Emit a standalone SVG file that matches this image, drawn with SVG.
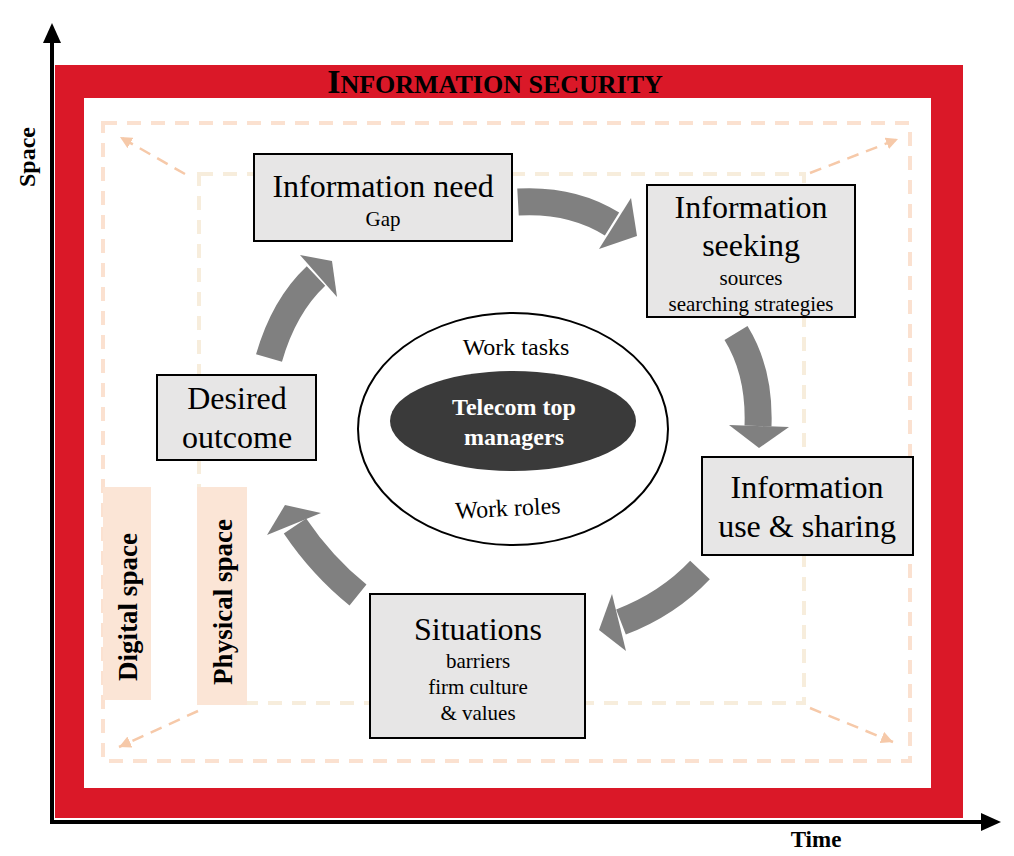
<svg xmlns="http://www.w3.org/2000/svg" width="1014" height="856" viewBox="0 0 1014 856">
<style>
text{font-family:"Liberation Serif","Times New Roman",serif;fill:#000}
.box{fill:#E7E6E6;stroke:#000;stroke-width:2}
.h{font-size:32px}
.s{font-size:21px}
.b{font-weight:bold}
.arr{fill:none;stroke:#808080;stroke-width:27;stroke-linecap:butt}
.head{fill:#808080}
.dout{fill:none;stroke:#FBE1D0;stroke-width:4;stroke-dasharray:14 10}
.din{fill:none;stroke:#F7EDDC;stroke-width:4;stroke-dasharray:14 10}
.darr{fill:none;stroke:#F6C9A9;stroke-width:2.5;stroke-dasharray:12 8}
.lab{fill:#FBE5D6}
</style>
<defs>
<marker id="ph" markerUnits="userSpaceOnUse" markerWidth="14" markerHeight="12" refX="12" refY="6" orient="auto">
<path d="M0,0 L12,6 L0,12 Z" fill="#F6C9A9"/>
</marker>
</defs>
<g id="axes">
<line x1="52" y1="824" x2="52" y2="40" stroke="#000" stroke-width="4"/>
<polygon points="52,23 43,43 61,43" fill="#000"/>
<line x1="50" y1="822" x2="985" y2="822" stroke="#000" stroke-width="4"/>
<polygon points="1001,822 981,813 981,831" fill="#000"/>
<text class="b" font-size="24" transform="translate(35,157) rotate(-90)" text-anchor="middle">Space</text>
<text class="b" x="816" y="847" font-size="23" text-anchor="middle">Time</text>
</g>
<g id="frame">
<rect x="55" y="65" width="908" height="753" fill="#DA1828"/>
<rect x="84" y="98" width="847" height="690" fill="#fff"/>
<text class="b" x="495" y="93" text-anchor="middle"><tspan font-size="34">I</tspan><tspan font-size="26">NFORMATION SECURITY</tspan></text>
</g>
<g id="spaces">
<rect class="dout" x="103" y="123" width="807" height="638"/>
<rect class="din" x="199" y="174" width="605" height="529"/>
<rect class="lab" x="103" y="487" width="48" height="213"/>
<rect class="lab" x="197" y="487" width="50" height="218"/>
<text class="b" font-size="27" transform="translate(137,607) rotate(-90)" text-anchor="middle">Digital space</text>
<text class="b" font-size="27" transform="translate(232,602) rotate(-90)" text-anchor="middle">Physical space</text>
</g>
<g id="connectors">
<line class="darr" x1="185" y1="174" x2="120" y2="137" marker-end="url(#ph)"/>
<line class="darr" x1="810" y1="173" x2="898" y2="139" marker-end="url(#ph)"/>
<line class="darr" x1="198" y1="711" x2="119" y2="747" marker-end="url(#ph)"/>
<line class="darr" x1="810" y1="708" x2="893" y2="742" marker-end="url(#ph)"/>
<path class="arr" d="M518,202 Q572,199 612,224"/>
<polygon class="head" points="631,198 637,236 599,249"/>
<path class="arr" d="M736,333 Q760,372 758,426"/>
<polygon class="head" points="729,425 789,427 759,448"/>
<path class="arr" d="M700,570 Q668,604 621,622"/>
<polygon class="head" points="612,594 599,630 626,651"/>
<path class="arr" d="M358,595 Q322,566 295,526"/>
<polygon class="head" points="267,535 285,505 321,513"/>
<path class="arr" d="M269,358 Q284,306 316,276"/>
<polygon class="head" points="300,255 332,261 337,297"/>
</g>
<g id="need">
<rect class="box" x="254" y="154" width="258" height="87"/>
<text class="h" x="383" y="197" text-anchor="middle">Information need</text>
<text class="s" x="383" y="226" text-anchor="middle">Gap</text>
</g>
<g id="seeking">
<rect class="box" x="647" y="185" width="208" height="132"/>
<text class="h" x="751" y="218" text-anchor="middle">Information</text>
<text class="h" x="751" y="256" text-anchor="middle">seeking</text>
<text class="s" x="751" y="285" text-anchor="middle">sources</text>
<text class="s" x="751" y="311" text-anchor="middle">searching strategies</text>
</g>
<g id="use">
<rect class="box" x="702" y="457" width="211" height="98"/>
<text class="h" x="807" y="498" text-anchor="middle">Information</text>
<text class="h" x="807" y="537" text-anchor="middle">use &amp; sharing</text>
</g>
<g id="situations">
<rect class="box" x="370" y="594" width="215" height="144"/>
<text class="h" x="478" y="640" text-anchor="middle">Situations</text>
<text class="s" x="478" y="668" text-anchor="middle">barriers</text>
<text class="s" x="478" y="694" text-anchor="middle">firm culture</text>
<text class="s" x="478" y="720" text-anchor="middle">&amp; values</text>
</g>
<g id="outcome">
<rect class="box" x="157" y="375" width="159" height="85"/>
<text class="h" x="237" y="409" text-anchor="middle">Desired</text>
<text class="h" x="237" y="448" text-anchor="middle">outcome</text>
</g>
<g id="center">
<ellipse cx="513" cy="429" rx="155" ry="116" fill="#fff" stroke="#000" stroke-width="2"/>
<text x="516" y="355" font-size="24" text-anchor="middle">Work tasks</text>
<ellipse cx="513" cy="421" rx="123" ry="50" fill="#3A3A3A"/>
<text class="b" x="514" y="415" font-size="24" text-anchor="middle" style="fill:#fff">Telecom top</text>
<text class="b" x="514" y="445" font-size="24" text-anchor="middle" style="fill:#fff">managers</text>
<text x="508" y="516" font-size="24" text-anchor="middle" transform="rotate(-3 508 510)">Work roles</text>
</g>
</svg>
